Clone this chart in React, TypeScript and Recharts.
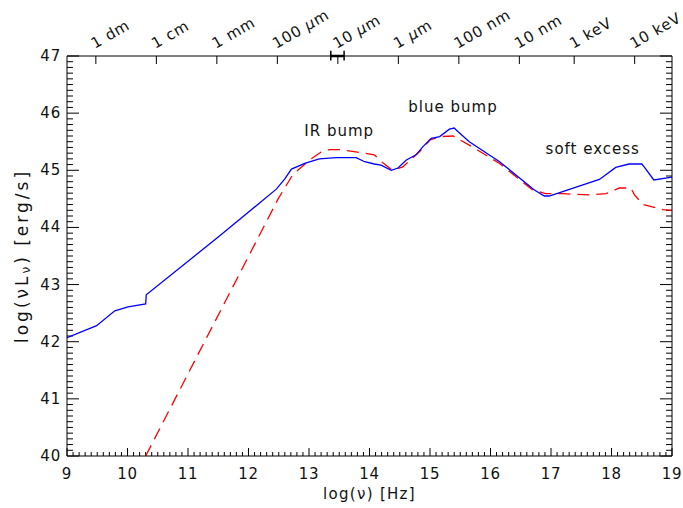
import React from 'react';
import { LineChart, Line, XAxis, YAxis, ReferenceLine, ReferenceDot } from 'recharts';

// ---- data ----
const blueNu = [9.0, 9.49, 9.79, 10.01, 10.3, 10.31, 11.52, 12.46, 12.6, 12.71, 12.93, 13.17, 13.45, 13.78, 13.92, 14.08, 14.19, 14.36, 14.47, 14.61, 14.77, 14.88, 15.02, 15.16, 15.32, 15.4, 15.46, 15.65, 16.15, 16.72, 16.89, 16.97, 17.8, 18.07, 18.29, 18.5, 18.54, 18.7, 19.0];
const blueLum = [42.07, 42.28, 42.54, 42.61, 42.66, 42.82, 43.85, 44.67, 44.85, 45.02, 45.12, 45.2, 45.22, 45.22, 45.15, 45.11, 45.09, 45.0, 45.04, 45.18, 45.27, 45.41, 45.56, 45.59, 45.72, 45.74, 45.68, 45.5, 45.15, 44.66, 44.55, 44.55, 44.84, 45.05, 45.11, 45.11, 45.06, 44.83, 44.88];

const redNu = [10.3, 12.49, 12.73, 13.01, 13.2, 13.34, 13.5, 13.72, 13.92, 14.08, 14.22, 14.38, 14.55, 14.83, 15.0, 15.18, 15.38, 15.65, 16.15, 16.69, 16.91, 17.19, 17.63, 17.91, 18.13, 18.32, 18.38, 18.52, 18.85, 19.0];
const redLum = [40.0, 44.5, 44.92, 45.18, 45.32, 45.36, 45.36, 45.33, 45.3, 45.27, 45.13, 45.0, 45.06, 45.33, 45.53, 45.59, 45.6, 45.44, 45.12, 44.66, 44.59, 44.59, 44.57, 44.59, 44.69, 44.69, 44.57, 44.4, 44.31, 44.3];

const xMajorTicks = [9, 10, 11, 12, 13, 14, 15, 16, 17, 18, 19];
const yMajorTicks = [40, 41, 42, 43, 44, 45, 46, 47];

const topTickNu = [9.477, 10.477, 11.477, 12.477, 13.477, 14.477, 15.477, 16.477, 17.383, 18.383];
const topTickLabels = ['1 dm', '1 cm', '1 mm', '100 \u03bcm', '10 \u03bcm', '1 \u03bcm', '100 nm', '10 nm', '1 keV', '10 keV'];

const annotationNu = [13.5, 15.38, 17.69];
const annotationLum = [45.69, 46.11, 45.37];
const annotationText = ['IR bump', 'blue bump', 'soft excess'];

const irBarNu = [13.36, 13.58];
const irBarLum = [46.92, 47.0, 47.09];

// ---- derived tables ----
const blueData = blueNu.map((v, i) => ({ nu: v, lum: blueLum[i] }));
const redData = redNu.map((v, i) => ({ nu: v, lum: redLum[i] }));

const X0 = 9;
const X1 = 19;
const Y0 = 40;
const Y1 = 47;
const PLOT_W = 605;
const PLOT_H = 400;
const pxX = (px: number) => (px * (X1 - X0)) / PLOT_W;
const pxY = (px: number) => (px * (Y1 - Y0)) / PLOT_H;

const minorOf = (majors: number[]) => {
  const out: number[] = [];
  for (let i = 0; i < majors.length - 1; i++) {
    for (let k = 1; k < 10; k++) out.push(Math.round((majors[i] + k * 0.1) * 10) / 10);
  }
  return out;
};
const xMinorTicks = minorOf(xMajorTicks);
const yMinorTicks = minorOf(yMajorTicks);

type Seg = { a: { x: number; y: number }; b: { x: number; y: number } };
const tickSegs: Seg[] = [];
xMajorTicks.forEach((v) => tickSegs.push({ a: { x: v, y: Y0 }, b: { x: v, y: Y0 + pxY(8) } }));
xMinorTicks.forEach((v) => tickSegs.push({ a: { x: v, y: Y0 }, b: { x: v, y: Y0 + pxY(4) } }));
topTickNu.forEach((v) => tickSegs.push({ a: { x: v, y: Y1 }, b: { x: v, y: Y1 - pxY(8) } }));
yMajorTicks.forEach((v) => {
  tickSegs.push({ a: { x: X0, y: v }, b: { x: X0 + pxX(12), y: v } });
  tickSegs.push({ a: { x: X1, y: v }, b: { x: X1 - pxX(12), y: v } });
});
yMinorTicks.forEach((v) => {
  tickSegs.push({ a: { x: X0, y: v }, b: { x: X0 + pxX(6), y: v } });
  tickSegs.push({ a: { x: X1, y: v }, b: { x: X1 - pxX(6), y: v } });
});

const FONT = 'DejaVu Sans';
const TXT = '#111';
const AX = { stroke: '#000', strokeWidth: 1 };

const BottomLabel = (p: any) => (
  <text x={p.x} y={p.y + 18} textAnchor="middle" dominantBaseline="central" fontFamily={FONT} fontSize={15} fill={TXT} letterSpacing={0.8}>
    {p.payload.value}
  </text>
);

const LeftLabel = (p: any) => (
  <text x={p.x - 6} y={p.y} textAnchor="end" dominantBaseline="central" fontFamily={FONT} fontSize={15} fill={TXT} letterSpacing={0.8}>
    {p.payload.value}
  </text>
);

const TopLabel = (p: any) => {
  const label = topTickLabels[p.index];
  const tx = p.x - 1;
  const ty = p.y - 7;
  const parts = label.split('\u03bc');
  return (
    <text x={tx} y={ty} transform={`rotate(-30 ${tx} ${ty})`} textAnchor="start" fontFamily={FONT} fontSize={15} fill={TXT} letterSpacing={0.8}>
      {parts.length > 1 ? (
        <>
          {parts[0]}
          <tspan fontStyle="italic">{'\u03bc'}</tspan>
          {parts[1]}
        </>
      ) : (
        label
      )}
    </text>
  );
};

const XLabel = (p: any) => {
  const vb = p.viewBox;
  const cx = vb.x + vb.width / 2;
  const cy = vb.y + 38;
  return (
    <text x={cx} y={cy} textAnchor="middle" dominantBaseline="central" fontFamily={FONT} fontSize={15} fill={TXT} letterSpacing={1.3}>
      log({'\u03bd'}) [Hz]
    </text>
  );
};

const YLabel = () => {
  const cx = 22;
  const cy = 256;
  return (
    <text x={cx} y={cy} transform={`rotate(-90 ${cx} ${cy})`} textAnchor="middle" dominantBaseline="central" fontFamily={FONT} fontSize={17} fill={TXT} letterSpacing={3}>
      log({'\u03bd'}L<tspan fontSize={12} dy={4}>{'\u03bd'}</tspan>
      <tspan dy={-4}>)  [erg/s]</tspan>
    </text>
  );
};

const AnnotationShape = (text: string) => (p: any) => (
  <text x={p.cx} y={p.cy} textAnchor="middle" dominantBaseline="central" fontFamily={FONT} fontSize={15} fill={TXT} letterSpacing={1}>
    {text}
  </text>
);

const common = { type: 'number' as const, allowDataOverflow: true, interval: 0 as const, tickLine: false, tickSize: 0, tickMargin: 0 };

export default function App() {
  return (
    <div style={{ position: 'absolute', left: 0, top: 0 }}>
      <LineChart width={683} height={508} margin={{ top: 55, right: 10, bottom: 51, left: 66 }}>
        <XAxis
          {...common}
          xAxisId={0}
          dataKey="nu"
          domain={[X0, X1]}
          ticks={xMajorTicks}
          tick={<BottomLabel />}
          height={1}
          axisLine={AX}
          label={{ content: <XLabel /> }}
        />
        <XAxis
          {...common}
          xAxisId="top"
          orientation="top"
          dataKey="nu"
          domain={[X0, X1]}
          ticks={topTickNu}
          tick={<TopLabel />}
          height={1}
          axisLine={AX}
        />
        <YAxis
          {...common}
          yAxisId={0}
          domain={[Y0, Y1]}
          ticks={yMajorTicks}
          tick={<LeftLabel />}
          width={1}
          axisLine={AX}
          label={{ content: <YLabel /> }}
        />
        <YAxis
          {...common}
          yAxisId="right"
          orientation="right"
          domain={[Y0, Y1]}
          ticks={yMajorTicks}
          tick={false}
          width={1}
          axisLine={AX}
        />
        {tickSegs.map((s, i) => (
          <ReferenceLine key={`t${i}`} segment={[s.a, s.b]} stroke="#000" strokeWidth={1} ifOverflow="visible" />
        ))}
        <Line data={redData} dataKey="lum" stroke="#ff0000" strokeWidth={1.3} strokeDasharray="12 7" dot={false} isAnimationActive={false} type="linear" />
        <Line data={blueData} dataKey="lum" stroke="#0000ff" strokeWidth={1.3} dot={false} isAnimationActive={false} type="linear" />
        <ReferenceLine
          segment={[{ x: irBarNu[0], y: irBarLum[1] }, { x: irBarNu[1], y: irBarLum[1] }]}
          stroke="#000"
          strokeWidth={2.5}
          ifOverflow="visible"
        />
        <ReferenceLine
          segment={[{ x: irBarNu[0], y: irBarLum[0] }, { x: irBarNu[0], y: irBarLum[2] }]}
          stroke="#000"
          strokeWidth={1.5}
          ifOverflow="visible"
        />
        <ReferenceLine
          segment={[{ x: irBarNu[1], y: irBarLum[0] }, { x: irBarNu[1], y: irBarLum[2] }]}
          stroke="#000"
          strokeWidth={1.5}
          ifOverflow="visible"
        />
        {annotationText.map((t, i) => (
          <ReferenceDot key={t} x={annotationNu[i]} y={annotationLum[i]} r={0} ifOverflow="visible" shape={AnnotationShape(t)} />
        ))}
      </LineChart>
    </div>
  );
}
